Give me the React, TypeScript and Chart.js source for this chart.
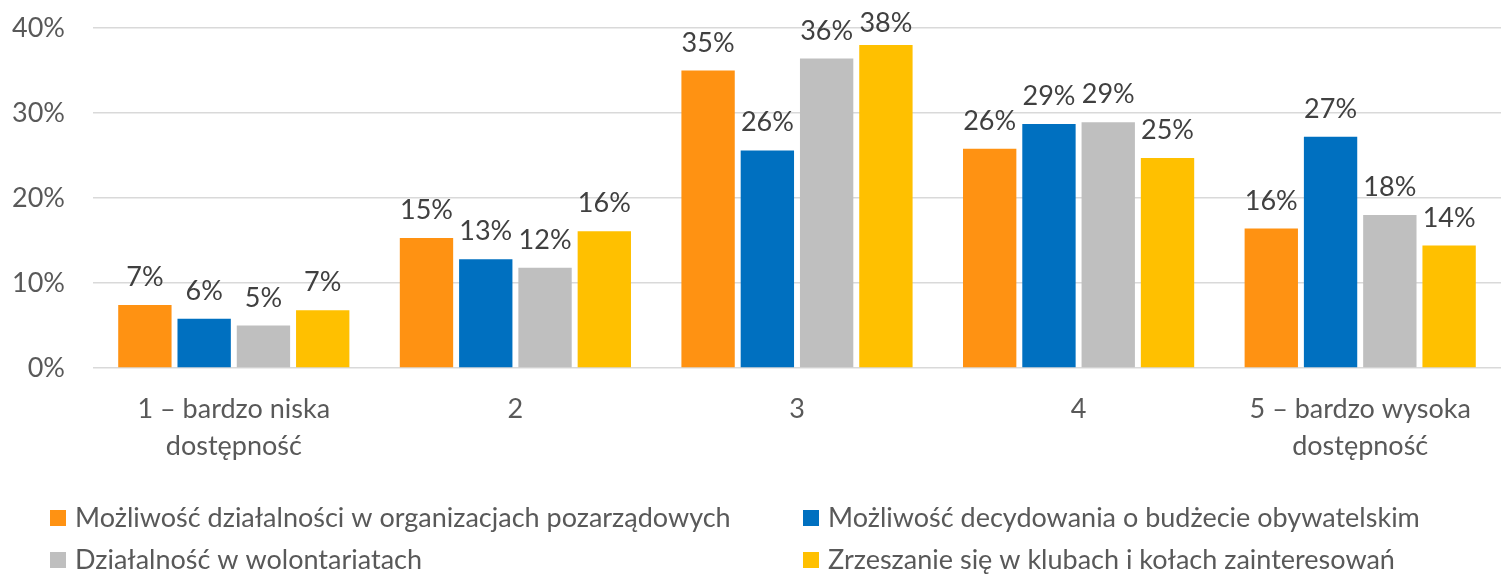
import React, { useEffect, useRef } from "react";
import { Chart, registerables } from "chart.js";

Chart.register(...registerables);

const categories: (string | string[])[] = [
  ["1 – bardzo niska", "dostępność"],
  "2",
  "3",
  "4",
  ["5 – bardzo wysoka", "dostępność"],
];

const seriesNames = [
  "Możliwość działalności w organizacjach pozarządowych",
  "Możliwość decydowania o budżecie obywatelskim",
  "Działalność w wolontariatach",
  "Zrzeszanie się w klubach i kołach zainteresowań",
];

const ngoValues = [7.4, 15.3, 35.0, 25.8, 16.4];
const budgetValues = [5.8, 12.8, 25.6, 28.7, 27.2];
const volunteerValues = [5.0, 11.8, 36.4, 28.9, 18.0];
const clubValues = [6.8, 16.1, 38.0, 24.7, 14.4];

const colors = ["#FF9212", "#0070C0", "#BFBFBF", "#FFC000"];

const yTicks = [0, 10, 20, 30, 40];

const FONT = "Lato, 'Open Sans', sans-serif";
const FS = 27;

const valueLabelPlugin = {
  id: "valueLabels",
  afterDatasetsDraw(chart: any) {
    const ctx = chart.ctx;
    ctx.save();
    ctx.font = `${FS}px ${FONT}`;
    ctx.fillStyle = "#404040";
    ctx.textAlign = "center";
    ctx.textBaseline = "alphabetic";
    chart.data.datasets.forEach((ds: any, i: number) => {
      const meta = chart.getDatasetMeta(i);
      meta.data.forEach((bar: any, j: number) => {
        const v = ds.data[j];
        const yy = Math.max(bar.y - 19, 32);
        ctx.fillText(`${Math.round(v)}%`, bar.x, yy);
      });
    });
    ctx.restore();
  },
};

const legendPlugin = {
  id: "customLegend",
  afterDraw(chart: any) {
    const ctx = chart.ctx;
    ctx.save();
    ctx.font = `${FS}px ${FONT}`;
    ctx.textBaseline = "middle";
    ctx.textAlign = "left";
    const colX = [50, 803];
    const rowY = [518, 560];
    chart.data.datasets.forEach((ds: any, i: number) => {
      const x = colX[i % 2];
      const y = rowY[Math.floor(i / 2)];
      ctx.fillStyle = ds.backgroundColor;
      ctx.fillRect(x, y - 8, 16, 16);
      ctx.fillStyle = "#595959";
      ctx.fillText(ds.label, x + 25, y);
    });
    ctx.restore();
  },
};

export default function App() {
  const ref = useRef<HTMLCanvasElement | null>(null);

  useEffect(() => {
    document.body.style.margin = "0";
    if (!ref.current) return;
    const allValues = [ngoValues, budgetValues, volunteerValues, clubValues];
    const chart = new Chart(ref.current, {
      type: "bar",
      data: {
        labels: categories,
        datasets: allValues.map((vals, i) => ({
          label: seriesNames[i],
          data: vals,
          backgroundColor: colors[i],
          categoryPercentage: 0.842,
          barPercentage: 0.9,
        })),
      },
      options: {
        animation: false,
        responsive: false,
        maintainAspectRatio: false,
        layout: { padding: { top: 28, right: 0, bottom: 107, left: 0 } },
        plugins: {
          legend: { display: false },
          tooltip: { enabled: false },
        },
        scales: {
          x: {
            afterFit: (s: any) => {
              s.height = 99;
              s.paddingLeft = 0;
              s.paddingRight = 0;
            },
            grid: { display: false },
            border: { display: false },
            ticks: {
              color: "#595959",
              font: { family: FONT, size: FS, lineHeight: 1.4 },
              padding: 14,
              maxRotation: 0,
              autoSkip: false,
            },
          },
          y: {
            min: 0,
            max: 40,
            afterFit: (s: any) => {
              s.width = 93;
              s.paddingTop = 0;
              s.paddingBottom = 0;
            },
            afterBuildTicks: (s: any) => {
              s.ticks = yTicks.map((v) => ({ value: v }));
            },
            grid: { color: "#D9D9D9", lineWidth: 1.5, drawTicks: false },
            border: { display: false },
            ticks: {
              color: "#595959",
              font: { family: FONT, size: FS },
              padding: 28,
              callback: (v: any) => `${v}%`,
            },
          },
        },
      },
      plugins: [valueLabelPlugin, legendPlugin],
    });
    return () => chart.destroy();
  }, []);

  return (
    <div style={{ width: 1501, height: 574 }}>
      <canvas ref={ref} width={1501} height={574} style={{ display: "block" }} />
    </div>
  );
}
